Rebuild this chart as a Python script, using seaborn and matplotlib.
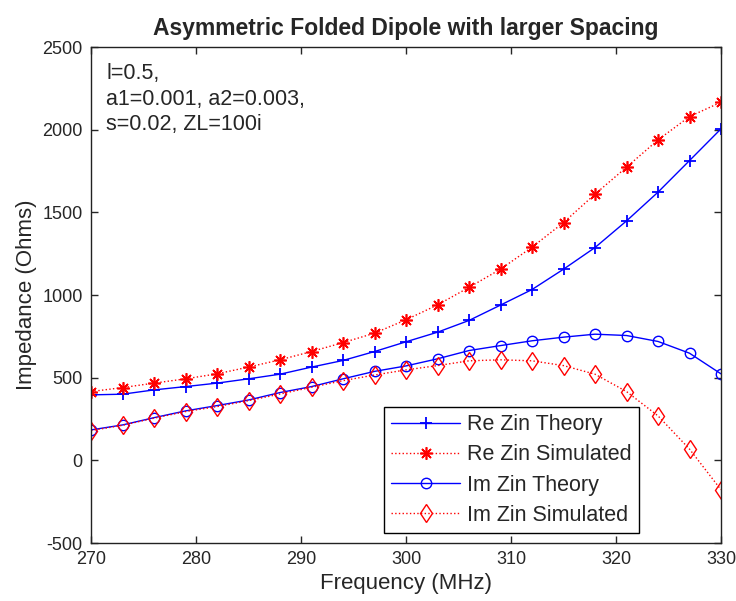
import numpy as np
import pandas as pd
import seaborn as sns
import matplotlib
matplotlib.use("Agg")
import matplotlib.pyplot as plt

freq = [270, 273, 276, 279, 282, 285, 288, 291, 294, 297, 300,
        303, 306, 309, 312, 315, 318, 321, 324, 327, 330]
re_theory = [396, 400, 426, 446, 467, 493, 521, 564, 604, 658, 717,
             775, 846, 939, 1033, 1156, 1287, 1448, 1622, 1813, 2005]
re_sim = [416, 440, 467, 493, 523, 564, 608, 658, 712, 769, 850,
          940, 1046, 1156, 1289, 1438, 1610, 1773, 1938, 2079, 2166]
im_theory = [184, 214, 258, 299, 331, 365, 410, 446, 493, 538, 571,
             614, 664, 694, 723, 745, 763, 755, 719, 648, 523]
im_sim = [180, 212, 255, 295, 325, 361, 401, 442, 482, 516, 547,
          573, 602, 608, 602, 573, 521, 416, 269, 68, -178]
labels = ["Re Zin Theory", "Re Zin Simulated", "Im Zin Theory", "Im Zin Simulated"]

sns.set_style("ticks")
plt.rcParams['font.family'] = ['Liberation Sans', 'DejaVu Sans']
plt.rcParams['axes.unicode_minus'] = False

fig = plt.figure(figsize=(7.36, 6.01), dpi=100)
ax = fig.add_axes([91/736, 1-543/601, 630/736, 496/601])

blue = "#0000ff"
red = "#ff0000"
styles = [
    dict(color=blue, linestyle="-", marker="+", markersize=9, mec=blue, mew=1.3),
    dict(color=red, linestyle=":", marker=(8, 2, 0), markersize=9, mec=red, mfc=red, mew=1.2),
    dict(color=blue, linestyle="-", marker="o", markersize=7.5, mfc="none", mec=blue, mew=1.0),
    dict(color=red, linestyle=":", marker="d", markersize=9.5, mfc="none", mec=red, mew=1.0),
]
for vals, lab, st in zip([re_theory, re_sim, im_theory, im_sim], labels, styles):
    df = pd.DataFrame({"f": freq, "z": vals})
    sns.lineplot(data=df, x="f", y="z", ax=ax, label=lab, linewidth=1.0, **st)

ax.set_xlim(270, 330)
ax.set_ylim(-500, 2500)
ax.set_xticks(range(270, 331, 10))
ax.set_yticks(range(-500, 2501, 500))
ax.tick_params(direction="in", top=True, right=True, labelsize=13, length=5, width=1, pad=6)
for s in ax.spines.values():
    s.set_linewidth(1.0)
    s.set_color("#222222")
ax.set_xlabel("Frequency (MHz)", fontsize=16, labelpad=3)
ax.set_ylabel("Impedance (Ohms)", fontsize=16, labelpad=4)
ax.set_title("Asymmetric Folded Dipole with larger Spacing", fontsize=16.5, fontweight="bold", pad=9)

ax.text(0.024, 0.967, "l=0.5,\na1=0.001, a2=0.003,\ns=0.02, ZL=100i",
        transform=ax.transAxes, ha="left", va="top", fontsize=15.5, linespacing=1.28)

leg = ax.legend(loc="lower left", bbox_to_anchor=(0.465, 0.02), fontsize=15.5,
                frameon=True, fancybox=False, edgecolor="black", framealpha=1,
                handlelength=3.2, handletextpad=0.3, borderpad=0.35, labelspacing=0.42,
                borderaxespad=0)
leg.get_frame().set_linewidth(1.0)

fig.savefig("out.png", dpi=100)
